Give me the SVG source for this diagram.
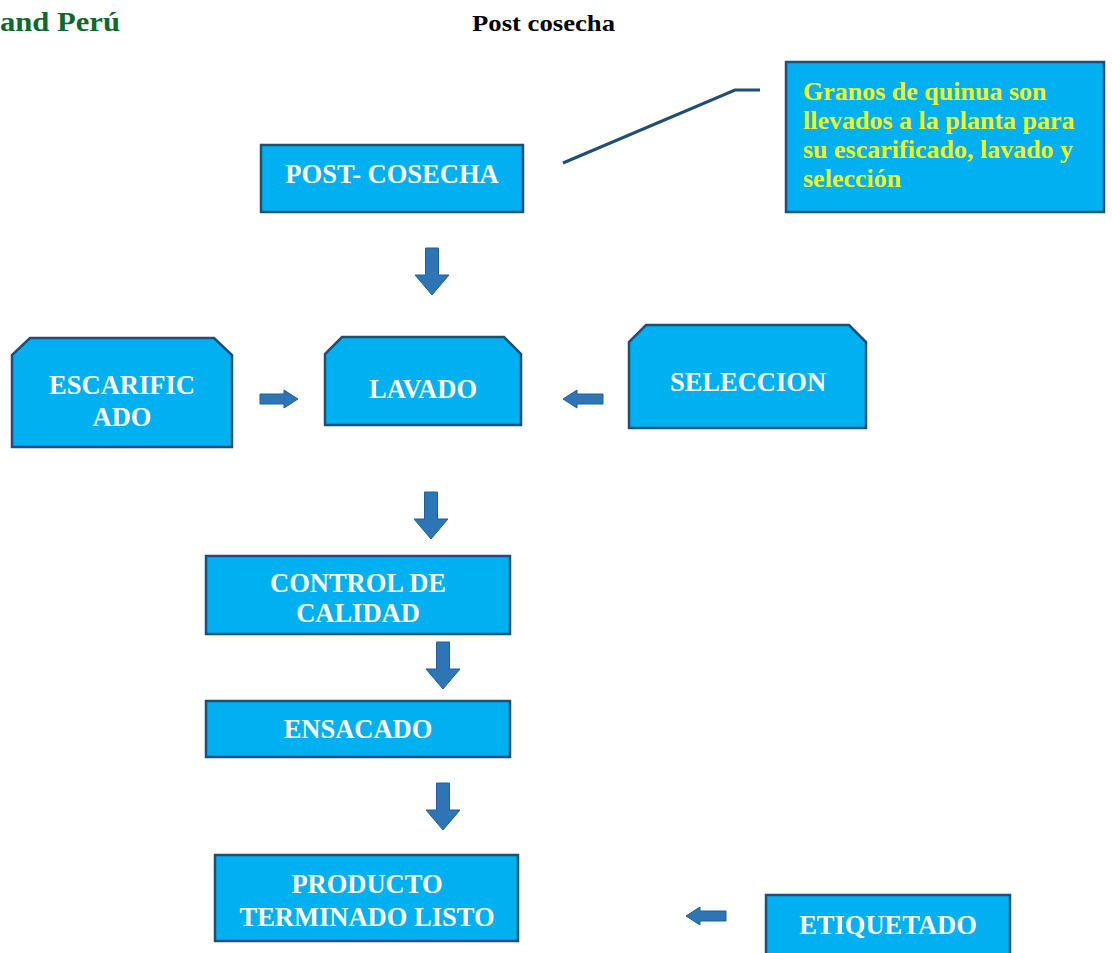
<svg xmlns="http://www.w3.org/2000/svg" width="1112" height="953" viewBox="0 0 1112 953">
<style>
.box{fill:#00b0f0;stroke:#1f4e79;stroke-width:2.5}
.t{font-family:"Liberation Serif","Times New Roman",serif;font-weight:bold;fill:#ffffff;font-size:26.5px;text-anchor:middle}
.y{font-family:"Liberation Serif","Times New Roman",serif;font-weight:bold;fill:#f0f526;font-size:26px}
.arr{fill:#2e75b6;stroke:#1f5f9a;stroke-width:1}
</style>
<defs>
<path id="down" d="M-6.5,0 H6.5 V27 H17 L0,47 L-17,27 H-6.5 Z"/>
<path id="right" d="M0,-5 H24 V-9 L38,0 L24,9 V5 H0 Z"/>
<path id="left" d="M0,0 L14,-9 V-5 H40 V5 H14 V9 Z"/>
</defs>
<rect width="1112" height="953" fill="#ffffff"/>
<text x="0" y="31" textLength="120" lengthAdjust="spacingAndGlyphs" style="font-family:'Liberation Serif',serif;font-weight:bold;font-size:27px;fill:#0b6b2a">and Perú</text>
<text x="472" y="31" textLength="143" lengthAdjust="spacingAndGlyphs" style="font-family:'Liberation Serif',serif;font-weight:bold;font-size:23px;fill:#000000">Post cosecha</text>

<g id="connectors">
<polyline points="563,163 735,90 760,90" fill="none" stroke="#1f4e79" stroke-width="3"/>
<use href="#down" class="arr" x="432" y="248"/>
<use href="#right" class="arr" x="260" y="399"/>
<use href="#left" class="arr" x="563" y="399"/>
<use href="#down" class="arr" x="431" y="492"/>
<use href="#down" class="arr" x="443" y="642"/>
<use href="#down" class="arr" x="443" y="783"/>
<use href="#left" class="arr" x="686" y="916"/>
</g>

<g id="post-cosecha">
<rect class="box" x="261" y="145" width="262" height="67"/>
<text class="t" x="392" y="183">POST- COSECHA</text>
</g>
<g id="callout">
<rect class="box" x="786" y="62" width="318" height="150"/>
<text class="y" x="803" y="100">Granos de quinua son</text>
<text class="y" x="803" y="129">llevados a la planta para</text>
<text class="y" x="803" y="158">su escarificado, lavado y</text>
<text class="y" x="803" y="187">selección</text>
</g>
<g id="escarificado">
<path class="box" d="M12,447 V355 L30,338 H214 L232,355 V447 Z"/>
<text class="t" x="122" y="394">ESCARIFIC</text>
<text class="t" x="122" y="426">ADO</text>
</g>
<g id="lavado">
<path class="box" d="M325,425 V354 L342,337 H504 L521,354 V425 Z"/>
<text class="t" x="423" y="398">LAVADO</text>
</g>
<g id="seleccion">
<path class="box" d="M629,428 V342 L646,325 H849 L866,342 V428 Z"/>
<text class="t" x="748" y="391">SELECCION</text>
</g>
<g id="control">
<rect class="box" x="206" y="556" width="304" height="78"/>
<text class="t" x="358" y="592">CONTROL DE</text>
<text class="t" x="358" y="622">CALIDAD</text>
</g>
<g id="ensacado">
<rect class="box" x="206" y="701" width="304" height="56"/>
<text class="t" x="358" y="738">ENSACADO</text>
</g>
<g id="producto">
<rect class="box" x="215" y="855" width="303" height="86"/>
<text class="t" x="367" y="893">PRODUCTO</text>
<text class="t" x="367" y="926">TERMINADO LISTO</text>
</g>
<g id="etiquetado">
<rect class="box" x="766" y="895" width="244" height="70"/>
<text class="t" x="888" y="934">ETIQUETADO</text>
</g>
</svg>
